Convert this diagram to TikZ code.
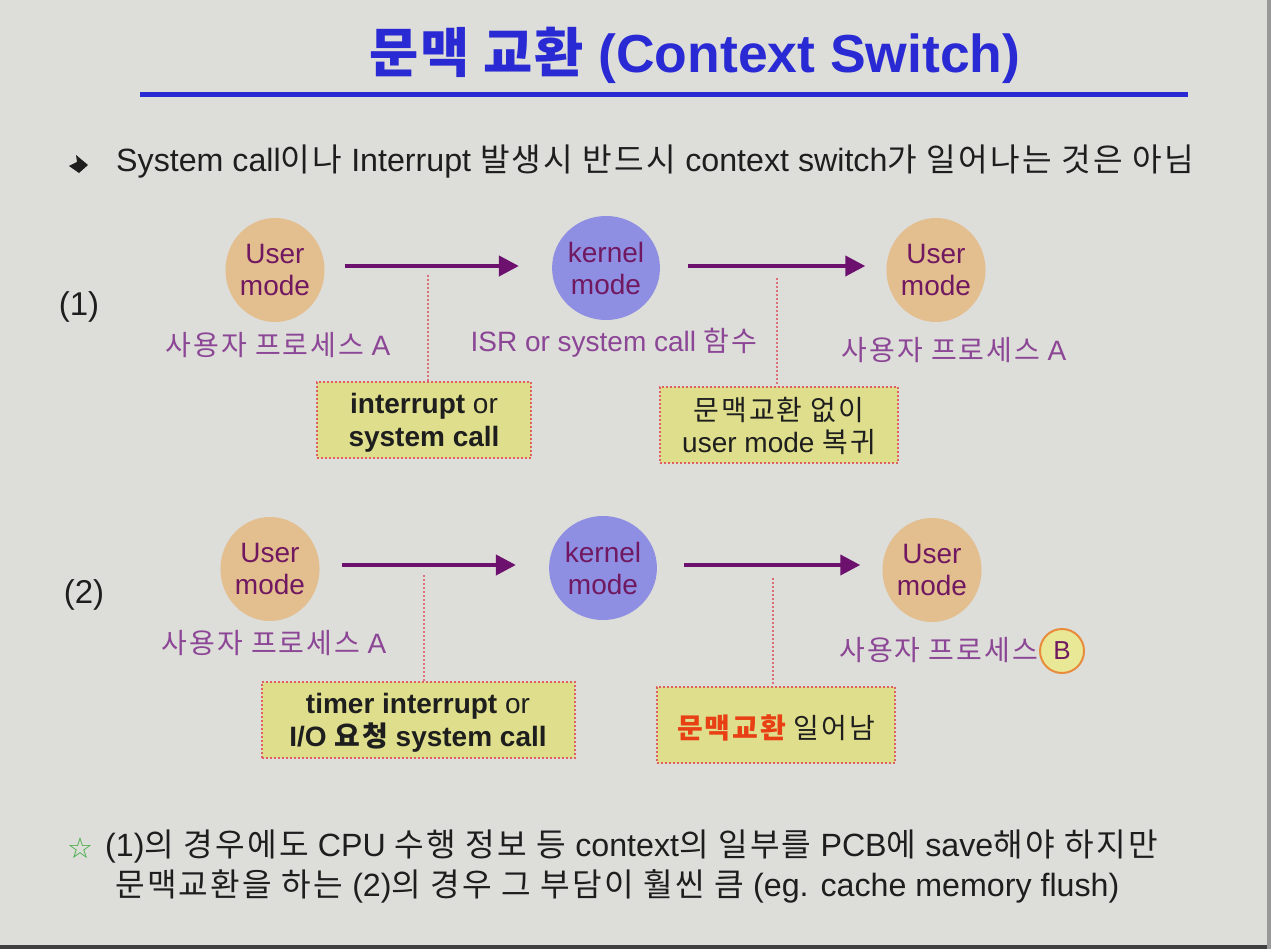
\documentclass[tikz,border=0pt]{standalone}
\usepackage{fontspec}
\setmainfont{Liberation Sans}
\newfontfamily\kr[LetterSpace=7]{Noto Sans CJK KR}
\newfontfamily\krt[LetterSpace=3]{Noto Sans CJK KR}
\newfontfamily\symf{DejaVu Sans}
\newcommand\K[1]{{\kr #1}}
\usetikzlibrary{arrows.meta,shapes.geometric}
\definecolor{bgc}{RGB}{221,221,217}
\definecolor{titleblue}{RGB}{42,42,212}
\definecolor{userfill}{RGB}{227,190,142}
\definecolor{kernfill}{RGB}{142,142,226}
\definecolor{circtext}{RGB}{112,24,96}
\definecolor{arrowc}{RGB}{108,18,110}
\definecolor{labelc}{RGB}{140,70,150}
\definecolor{boxfill}{RGB}{222,222,140}
\definecolor{boxedge}{RGB}{222,96,96}
\definecolor{dropc}{RGB}{222,110,120}
\definecolor{bodyc}{RGB}{30,30,30}
\definecolor{redt}{RGB}{232,64,20}
\definecolor{bfill}{RGB}{232,232,150}
\definecolor{bedge}{RGB}{232,140,60}
\definecolor{starc}{RGB}{60,170,60}
\begin{document}
\begin{tikzpicture}[x=1pt,y=-1pt,
  titlefont/.style={font=\fontsize{53.5}{60}\selectfont\bfseries, text=titleblue},
  modecirc/.style={ellipse, minimum width=96pt, minimum height=104pt, inner sep=0pt, align=center,
    text=circtext, font=\fontsize{28}{32}\selectfont},
  usercirc/.style={modecirc, fill=userfill},
  kerncirc/.style={modecirc, fill=kernfill},
  flow/.style={draw=arrowc, line width=4pt, -{Triangle[length=20pt,width=20pt]}},
  drop/.style={draw=dropc, line width=2pt, dash pattern=on 2pt off 2pt},
  notebox/.style={rectangle, draw=boxedge, line width=2pt, dash pattern=on 2pt off 2pt, fill=boxfill,
    inner sep=0pt, minimum height=76pt},
  boxtext/.style={align=center, inner sep=0pt, yshift=-3pt, text=bodyc, font=\fontsize{28}{32.5}\selectfont},
  lab/.style={text=labelc, font=\fontsize{28}{30}\selectfont, inner sep=0pt},
  body/.style={text=bodyc, font=\fontsize{32.2}{36}\selectfont, inner sep=0pt, anchor=west},
  rownum/.style={text=bodyc, font=\fontsize{33}{36}\selectfont, inner sep=0pt}
]
\fill[bgc] (0,0) rectangle (1271,949);
\useasboundingbox (0,0) rectangle (1271,949);
\fill[black!75] (0,945) rectangle (1271,949);
\fill[black!40] (1267,0) rectangle (1271,949);

% title
\node[titlefont] (title) at (695,55) {{\krt\bfseries 문맥 교환} (Context Switch)};
\draw[titleblue, line width=5pt] (140,95) -- (1188,95);

% bullet
\fill[bodyc] (69,166) -- (77,162) -- (76,155) -- (88,165) -- (79,173) -- cycle;
\node[body] (bul) at (116,162) {System call\K{이나} Interrupt \K{발생시 반드시} context switch\K{가 일어나는 것은 아님}};

% row (1)
\coordinate (r1) at (0,266);
\node[rownum] (n1) at (79,307) {(1)};
\node[usercirc] (u1) at (275,270) {User\\mode};
\node[kerncirc] (k1) at (606,268) {kernel\\mode};
\node[usercirc] (u2) at (936,270) {User\\mode};
\draw[flow, shorten <=20pt, shorten >=33pt] (u1.east |- r1) -- (k1.west |- r1);
\draw[flow, shorten <=28pt, shorten >=21pt] (k1.east |- r1) -- (u2.west |- r1);
\node[lab] (l1) at (278,345) {\K{사용자 프로세스} A};
\node[lab] (l2) at (614,343) {ISR or system call \K{함수}};
\node[lab] (l3) at (954,350) {\K{사용자 프로세스} A};
\node[notebox, minimum width=214pt,
  label={[boxtext]center:\textbf{interrupt} or\\\textbf{system call}}] (b1) at (424,420) {};
\node[notebox, minimum width=238pt,
  label={[boxtext, yshift=2pt]center:\K{문맥교환 없이}\\user mode \K{복귀}}] (b2) at (779,425) {};
\coordinate (d1) at (428,275);
\coordinate (d2) at (777,278);
\draw[drop] (d1) -- (d1 |- b1.north);
\draw[drop] (d2) -- (d2 |- b2.north);

% row (2)
\coordinate (r2) at (0,565);
\node[rownum] (n2) at (84,595) {(2)};
\node[usercirc] (u3) at (270,569) {User\\mode};
\node[kerncirc] (k2) at (603,568) {kernel\\mode};
\node[usercirc] (u4) at (932,570) {User\\mode};
\draw[flow, shorten <=22pt, shorten >=33pt] (u3.east |- r2) -- (k2.west |- r2);
\draw[flow, shorten <=27pt, shorten >=22pt] (k2.east |- r2) -- (u4.west |- r2);
\node[lab] (l4) at (274,643) {\K{사용자 프로세스} A};
\node[lab, anchor=east] (l5) at (1038,650) {\K{사용자 프로세스}};
\node[circle, draw=bedge, fill=bfill, line width=2pt, minimum size=44pt, inner sep=0pt,
  text=circtext, font=\fontsize{26}{30}\selectfont] (bc) at (1062,651) {B};
\node[notebox, minimum width=313pt,
  label={[boxtext]center:\textbf{timer interrupt} or\\\textbf{I/O \K{요청} system call}}] (b3) at (418,720) {};
\node[notebox, minimum width=238pt,
  label={[boxtext]center:{\color{redt}\K{\bfseries 문맥교환}} \K{일어남}}] (b4) at (776,725) {};
\coordinate (d3) at (424,575);
\coordinate (d4) at (773,578);
\draw[drop] (d3) -- (d3 |- b3.north);
\draw[drop] (d4) -- (d4 |- b4.north);

% bottom note
\node[text=starc, font=\symf\fontsize{29}{30}\selectfont, inner sep=0pt] (star) at (80,848) {☆};
\node[body] (t1) at (105,847) {(1)\K{의 경우에도} CPU \K{수행 정보 등} context\K{의 일부를} PCB\K{에} save\K{해야 하지만}};
\node[body] (t2) at (115,886) {\K{문맥교환을 하는} (2)\K{의 경우 그 부담이 훨씬 큼} (eg. cache memory flush)};
\end{tikzpicture}
\end{document}
